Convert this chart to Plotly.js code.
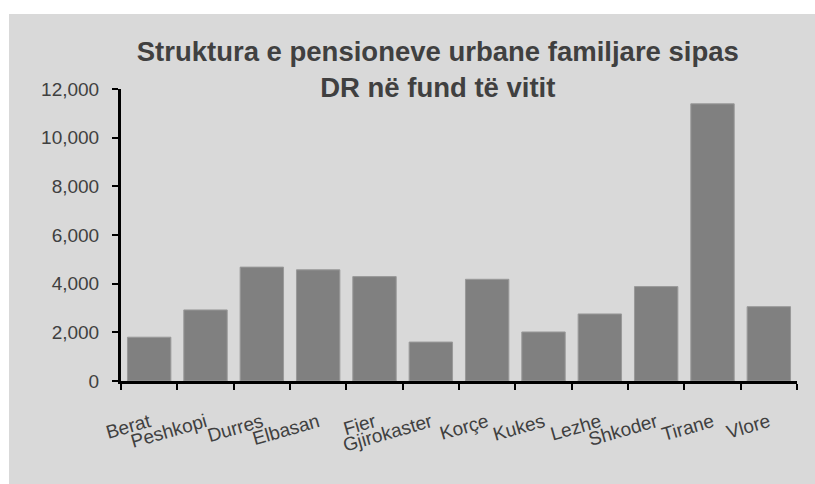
<!DOCTYPE html>
<html>
<head>
<meta charset="utf-8">
<script src="https://cdn.plot.ly/plotly-3.0.1.min.js"></script>
<style>
  html, body { margin: 0; padding: 0; background: #ffffff; width: 815px; height: 484px; overflow: hidden; }
  #chart { position: absolute; left: 9px; top: 14px; width: 806px; height: 470px; }
</style>
</head>
<body>
<div id="chart"></div>
<script>
const categories = ["Berat", "Peshkopi", "Durres", "Elbasan", "Fier", "Gjirokaster", "Korçe", "Kukes", "Lezhe", "Shkoder", "Tirane", "Vlore"];
const values = [1800, 2920, 4680, 4570, 4290, 1600, 4180, 2015, 2755, 3880, 11390, 3055];
const yTickVals = [0, 2000, 4000, 6000, 8000, 10000, 12000];
const titleLines = ["Struktura e pensioneve urbane familjare sipas", "DR në fund të vitit"];

const trace = {
  type: "bar",
  x: categories,
  y: values,
  marker: { color: "#808080", line: { color: "#999999", width: 1 } },
  hoverinfo: "x+y"
};

const layout = {
  width: 806,
  height: 470,
  paper_bgcolor: "#d9d9d9",
  plot_bgcolor: "#d9d9d9",
  font: { family: "Liberation Sans, Arial, sans-serif", color: "#404040", size: 19 },
  margin: { l: 112, r: 18, t: 75, b: 103 },
  bargap: 0.23,
  showlegend: false,
  title: {
    text: "<b>" + titleLines.join("<br>") + "</b>",
    font: { size: 27.5, color: "#404040", family: "Liberation Sans, Arial, sans-serif" },
    xref: "container", x: 0.532, xanchor: "center",
    yref: "container", y: 0.90, yanchor: "top"
  },
  xaxis: {
    type: "category",
    showgrid: false,
    showline: true, linecolor: "#000000", linewidth: 3,
    ticks: "outside", ticklen: 6, tickwidth: 2, tickcolor: "#000000",
    tickson: "boundaries",
    tickangle: -16,
    ticklabelstandoff: 20,
    tickfont: { size: 19, color: "#404040" },
    zeroline: false
  },
  yaxis: {
    range: [0, 12000],
    tickvals: yTickVals,
    tickformat: ",d",
    showgrid: false,
    showline: true, linecolor: "#000000", linewidth: 3,
    ticks: "outside", ticklen: 6, tickwidth: 2, tickcolor: "#000000",
    ticklabelstandoff: 9,
    tickfont: { size: 19, color: "#404040" },
    zeroline: false
  }
};

Plotly.newPlot("chart", [trace], layout, { displayModeBar: false, staticPlot: true });
</script>
</body>
</html>
